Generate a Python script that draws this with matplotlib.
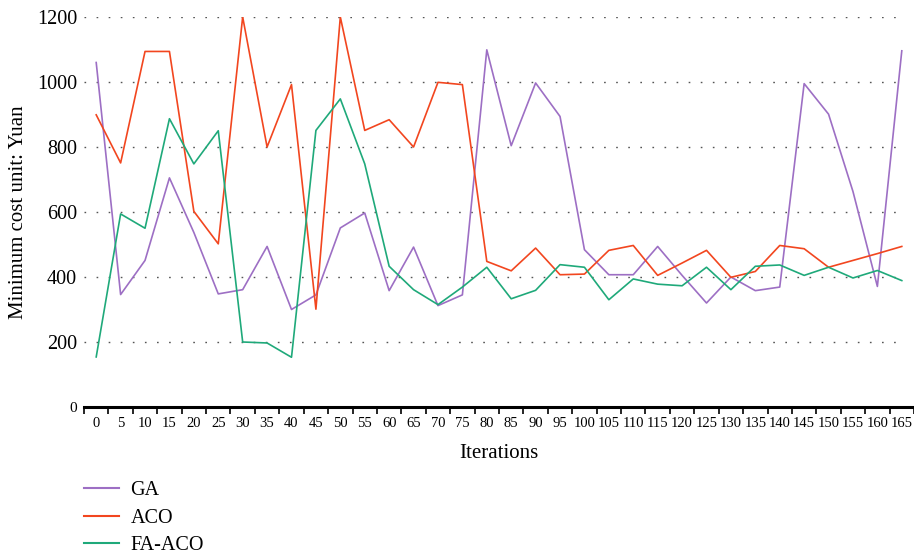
import matplotlib.pyplot as plt
import numpy as np

plt.rcParams['font.family'] = ['Liberation Serif', 'DejaVu Serif']

iterations = list(range(0, 170, 5))

ga = [1060, 346, 451, 705, 537, 348, 361, 494, 300, 345,
      551, 597, 358, 492, 312, 345, 1099, 804, 997, 894,
      484, 407, 407, 494, 405, 320, 400, 358, 369, 995,
      901, 663, 371, 1096]

aco = [899, 751, 1094, 1094, 602, 502, 1200, 800, 992, 301,
       1200, 851, 884, 800, 999, 992, 448, 419, 489, 407,
       409, 482, 497, 405, 443, 482, 399, 417, 497, 487,
       430, 451, 472, 494]

fa_aco = [154, 594, 550, 887, 748, 850, 200, 197, 153, 851,
          948, 748, 433, 361, 315, 369, 430, 333, 359, 438,
          430, 330, 394, 378, 373, 430, 361, 433, 437, 405,
          430, 397, 420, 389]

series = [("GA", ga, "#9d6fc4"), ("ACO", aco, "#f2461f"), ("FA-ACO", fa_aco, "#1fa97a")]

fig = plt.figure(figsize=(9.14, 5.56), dpi=100)
ax = fig.add_axes([84 / 914, 149 / 556, 830 / 914, 390 / 556])

x = np.arange(len(iterations))
for name, vals, col in series:
    ax.plot(x, vals, color=col, lw=1.2, label=name)

ax.set_xlim(-0.5, len(iterations) - 0.5)
ax.set_ylim(0, 1200)

# category axis: ticks on the boundaries, labels centred in between
ax.set_xticks(np.arange(len(iterations) + 1) - 0.5)
ax.set_xticklabels([])
ax.set_xticks(x, minor=True)
ax.set_xticklabels([str(v) for v in iterations], minor=True, fontsize=10.5)
ax.tick_params(axis='x', which='major', length=5, width=1.2, color='black', direction='out')
ax.tick_params(axis='x', which='minor', length=0, pad=7)

ax.set_yticks([0, 200, 400, 600, 800, 1000, 1200])
ax.tick_params(axis='y', length=0, pad=5, labelsize=14.5)
ax.get_yticklabels()[0].set_fontsize(11)

for v in range(200, 1201, 200):
    ax.plot([-0.5, 33.1], [v, v], color='#555555', lw=1.0,
            dashes=(1.2, 7.5), zorder=0)

for s in ['top', 'right', 'left']:
    ax.spines[s].set_visible(False)
ax.spines['bottom'].set_linewidth(2.2)

ax.set_xlabel("Iterations", fontsize=15, labelpad=10)
ax.set_ylabel("Minimum cost unit: Yuan", fontsize=15, labelpad=6)

leg = fig.legend(loc='upper left', bbox_to_anchor=(66 / 914, 1 - 463 / 556),
                 frameon=False, fontsize=14.5, handlelength=1.75,
                 handletextpad=0.55, labelspacing=0.42)
for line in leg.get_lines():
    line.set_linewidth(1.5)

fig.savefig("out.png", dpi=100)
